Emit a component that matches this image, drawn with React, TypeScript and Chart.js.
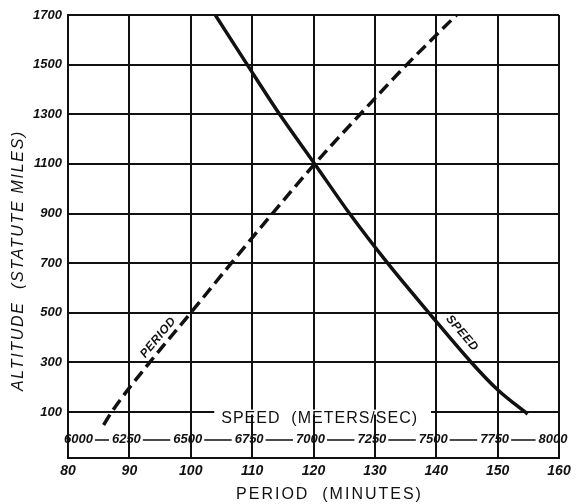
import React, { useEffect, useRef } from "react";
import { Chart, registerables } from "chart.js";

Chart.register(...registerables);

// Axis ticks
const periodTicks = [80, 90, 100, 110, 120, 130, 140, 150, 160];
const altitudeTicks = [100, 300, 500, 700, 900, 1100, 1300, 1500, 1700];
const speedTicks = [6000, 6250, 6500, 6750, 7000, 7250, 7500, 7750, 8000];

// PERIOD curve (minutes vs statute miles)
const periodMinutes = [85.8, 87.1, 93.3, 100, 106.6, 113.3, 120.2, 127.6, 135.2, 143.3];
const periodAltitude = [48, 100, 300, 500, 700, 900, 1100, 1300, 1500, 1700];

// SPEED curve (meters/sec vs statute miles)
const speedMps = [6600, 6730, 6862, 7005, 7147, 7302, 7470, 7643, 7750, 7872];
const speedAltitude = [1700, 1500, 1300, 1100, 900, 700, 500, 300, 190, 92];

const xTitle = "PERIOD  (MINUTES)";
const yTitle = "ALTITUDE  (STATUTE MILES)";
const speedTitle = "SPEED  (METERS/SEC)";
const periodLabel = "PERIOD";
const speedLabel = "SPEED";

const INK = "#111111";
const FONT = '"Liberation Sans", Arial, sans-serif';

const annotate = {
  id: "annotate",
  beforeDatasetsDraw(chart: any) {
    const { ctx, scales } = chart;
    const x = scales.x;
    const y = scales.y;
    ctx.save();
    ctx.font = `16px ${FONT}`;
    (ctx as any).letterSpacing = "1px";
    const w = ctx.measureText(speedTitle).width;
    const cx = x.getPixelForValue(121);
    const gy = y.getPixelForValue(100);
    ctx.fillStyle = "#ffffff";
    ctx.fillRect(cx - w / 2 - 7, gy - 2.5, w + 20, 5);
    ctx.restore();
  },
  afterDraw(chart: any) {
    const { ctx, scales, chartArea } = chart;
    const x = scales.x;
    const x2 = scales.x2;
    const y = scales.y;
    ctx.save();
    ctx.fillStyle = INK;
    ctx.strokeStyle = INK;

    // speed axis title inside plot
    ctx.font = `16px ${FONT}`;
    (ctx as any).letterSpacing = "1px";
    ctx.textAlign = "center";
    ctx.textBaseline = "middle";
    ctx.fillText(speedTitle, x.getPixelForValue(121), y.getPixelForValue(72));

    // speed tick row
    ctx.font = `bold italic 13px ${FONT}`;
    (ctx as any).letterSpacing = "0px";
    const rowY = y.getPixelForValue(-12);
    const boxes: { l: number; r: number }[] = [];
    speedTicks.forEach((v, i) => {
      const t = String(v);
      const w = ctx.measureText(t).width;
      let cx = x2.getPixelForValue(v) - 3;
      if (i === 0) cx = chartArea.left + w / 2 - 4;
      if (i === speedTicks.length - 1) cx = x2.getPixelForValue(v) - 6;
      ctx.fillText(t, cx, rowY);
      boxes.push({ l: cx - w / 2, r: cx + w / 2 });
    });
    ctx.lineWidth = 1.5;
    ctx.beginPath();
    for (let i = 0; i < boxes.length - 1; i++) {
      const a = boxes[i].r + 2;
      const b = boxes[i + 1].l - 3;
      if (b > a) {
        ctx.moveTo(a, rowY);
        ctx.lineTo(b, rowY);
      }
    }
    ctx.stroke();

    // axis titles
    ctx.font = `16px ${FONT}`;
    (ctx as any).letterSpacing = "2px";
    ctx.textAlign = "center";
    ctx.textBaseline = "middle";
    ctx.fillText(xTitle, (chartArea.left + chartArea.right) / 2 + 16, chartArea.bottom + 37);

    ctx.save();
    ctx.font = `italic 16px ${FONT}`;
    (ctx as any).letterSpacing = "1.7px";
    ctx.translate(chartArea.left - 49, (chartArea.top + chartArea.bottom) / 2 + 24);
    ctx.rotate(-Math.PI / 2);
    ctx.fillText(yTitle, 0, 0);
    ctx.restore();

    // curve labels
    ctx.font = `bold italic 12px ${FONT}`;
    (ctx as any).letterSpacing = "0.5px";
    const pa = Math.atan2(
      y.getPixelForValue(500) - y.getPixelForValue(300),
      x.getPixelForValue(100) - x.getPixelForValue(93.3)
    );
    ctx.save();
    ctx.translate(x.getPixelForValue(94.7), y.getPixelForValue(400));
    ctx.rotate(pa);
    ctx.fillText(periodLabel, 0, 0);
    ctx.restore();

    const sa = Math.atan2(
      y.getPixelForValue(300) - y.getPixelForValue(500),
      x2.getPixelForValue(7643) - x2.getPixelForValue(7470)
    );
    ctx.save();
    ctx.translate(x2.getPixelForValue(7605), y.getPixelForValue(418));
    ctx.rotate(sa);
    ctx.fillText(speedLabel, 0, 0);
    ctx.restore();

    ctx.restore();
  },
};

export default function App() {
  const ref = useRef<HTMLCanvasElement | null>(null);

  useEffect(() => {
    if (!ref.current) return;
    const chart = new Chart(ref.current, {
      type: "line",
      data: {
        datasets: [
          {
            label: "Period",
            data: periodMinutes.map((m, i) => ({ x: m, y: periodAltitude[i] })),
            xAxisID: "x",
            yAxisID: "y",
            borderColor: INK,
            borderWidth: 3.5,
            borderDash: [12, 6],
            pointRadius: 0,
            cubicInterpolationMode: "monotone",
            fill: false,
          },
          {
            label: "Speed",
            data: speedMps.map((s, i) => ({ x: s, y: speedAltitude[i] })),
            xAxisID: "x2",
            yAxisID: "y",
            borderColor: INK,
            borderWidth: 3.5,
            pointRadius: 0,
            cubicInterpolationMode: "monotone",
            fill: false,
          },
        ],
      },
      options: {
        responsive: false,
        animation: false,
        layout: { padding: { top: 15, right: 20, left: 0, bottom: 0 } },
        plugins: { legend: { display: false }, tooltip: { enabled: false }, title: { display: false } },
        scales: {
          x: {
            type: "linear",
            position: "bottom",
            min: 80,
            max: 160,
            afterBuildTicks: (s: any) => {
              s.ticks = periodTicks.map((v) => ({ value: v }));
            },
            afterFit: (s: any) => {
              s.height = 46;
              s.paddingLeft = 0;
              s.paddingRight = 0;
            },
            grid: { color: INK, lineWidth: 2, drawTicks: false },
            border: { color: INK, width: 2 },
            ticks: {
              color: INK,
              padding: 5,
              maxRotation: 0,
              autoSkip: false,
              callback: (v: any) => String(v),
              font: { family: FONT, size: 14, style: "italic", weight: "bold" },
            },
          },
          x2: {
            type: "linear",
            axis: "x",
            position: "top",
            min: 6000,
            max: 8000,
            display: false,
          },
          y: {
            type: "linear",
            min: -85,
            max: 1700,
            afterBuildTicks: (s: any) => {
              s.ticks = altitudeTicks.map((v) => ({ value: v }));
            },
            afterFit: (s: any) => {
              s.width = 68;
              s.paddingTop = 0;
              s.paddingBottom = 0;
            },
            grid: { color: INK, lineWidth: 2, drawTicks: false },
            border: { color: INK, width: 2 },
            ticks: {
              color: INK,
              padding: 6,
              autoSkip: false,
              callback: (v: any) => String(v),
              font: { family: FONT, size: 13, style: "italic", weight: "bold" },
            },
          },
        },
      } as any,
      plugins: [annotate],
    });
    return () => chart.destroy();
  }, []);

  return (
    <div style={{ position: "fixed", left: 0, top: 0, width: 579, height: 504, background: "#fff" }}>
      <canvas ref={ref} width={579} height={504} style={{ display: "block" }} />
    </div>
  );
}
